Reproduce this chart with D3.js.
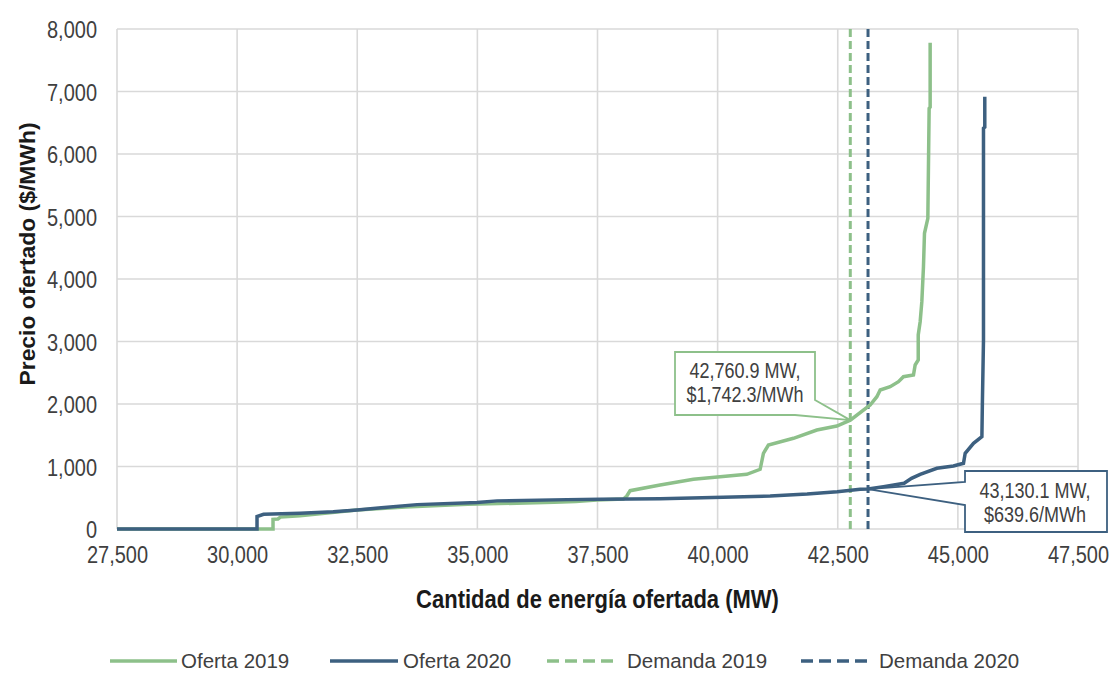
<!DOCTYPE html>
<html><head><meta charset="utf-8">
<script src="https://cdn.jsdelivr.net/npm/d3@7"></script>
<style>
body{margin:0;background:#fff}
svg{display:block}
text{font-family:"Liberation Sans",Arial,sans-serif}
</style>
</head><body>
<svg id="c" width="1109" height="673"></svg>
<script>
// ---------- data ----------
const xTicks = [27500, 30000, 32500, 35000, 37500, 40000, 42500, 45000, 47500];
const yTicks = [0, 1000, 2000, 3000, 4000, 5000, 6000, 7000, 8000];

const qty2019   = [27500, 30747, 30747, 30850, 30900, 31309, 32496, 33500, 34800, 36600, 37050, 37485, 38040, 38110, 38179, 38803, 39496, 40052, 40607, 40885, 40953, 41057, 41578, 42065, 42481, 42761, 43175, 43314, 43383, 43591, 43764, 43867, 44076, 44111, 44175, 44175, 44215, 44250, 44284, 44305, 44375, 44402, 44423, 44423];
const price2019 = [0, 0, 155, 160, 190, 213, 304, 350, 395, 427, 440, 464, 480, 528, 613, 704, 795, 837, 875, 955, 1211, 1344, 1451, 1584, 1648, 1742, 1984, 2117, 2224, 2277, 2357, 2437, 2464, 2624, 2704, 3104, 3317, 3637, 4197, 4731, 4971, 6731, 6750, 7780];

const qty2020   = [27500, 30414, 30414, 30550, 31309, 32000, 32496, 33000, 33745, 34994, 35410, 36867, 37554, 38803, 40115, 41093, 41863, 42488, 42966, 43130, 43451, 43881, 44035, 44215, 44563, 44908, 45117, 45152, 45325, 45500, 45510, 45533, 45533, 45560, 45560];
const price2020 = [0, 0, 200, 235, 251, 275, 304, 340, 390, 425, 450, 470, 475, 485, 507, 528, 560, 597, 635, 640, 677, 731, 811, 875, 971, 1008, 1051, 1211, 1371, 1477, 2011, 3024, 6411, 6430, 6917];

const demandQty   = [42760.9, 43130.1];
const demandPrice = [1742.3, 639.6];
const seriesNames = ["Oferta 2019", "Oferta 2020", "Demanda 2019", "Demanda 2020"];
const xTitle = "Cantidad de energía ofertada (MW)";
const yTitle = "Precio ofertado ($/MWh)";

// ---------- setup ----------
const GREEN = "#8DC08A", BLUE = "#3D6080";
const svg = d3.select("#c");
const L = 117, R = 1078, T = 29, B = 529;
const SY = 1.2; // vertical text stretch of the reference
const x = d3.scaleLinear().domain([27500, 47500]).range([L, R]);
const y = d3.scaleLinear().domain([0, 8000]).range([B, T]);
const fmt = d3.format(",");

function stext(g, tx, ty, str, opts = {}) {
  return g.append("text")
    .attr("transform", `translate(${tx},${ty}) scale(1,${SY})`)
    .attr("text-anchor", opts.anchor || "start")
    .attr("font-size", opts.size || 20)
    .attr("font-weight", opts.weight || "normal")
    .attr("fill", opts.fill || "#404040")
    .text(str);
}

// grid
const grid = svg.append("g");
grid.selectAll("line.v").data(xTicks).join("line")
  .attr("x1", d => x(d)).attr("x2", d => x(d)).attr("y1", T).attr("y2", B)
  .attr("stroke", "#d9d9d9").attr("stroke-width", 1.6);
grid.selectAll("line.h").data(yTicks).join("line")
  .attr("x1", L).attr("x2", R).attr("y1", d => y(d)).attr("y2", d => y(d))
  .attr("stroke", "#d9d9d9").attr("stroke-width", 1.6);

// axes (labels only)
const ax = svg.append("g").attr("transform", `translate(${L},0)`)
  .call(d3.axisLeft(y).tickValues(yTicks).tickFormat(fmt).tickSize(0));
ax.select(".domain").remove();
ax.selectAll("text").attr("x", 0).attr("dy", null).attr("y", 0)
  .attr("transform", `translate(-20,8.5) scale(1,${SY})`)
  .attr("font-size", 20).attr("fill", "#404040").attr("font-family", null);

const bx = svg.append("g").attr("transform", `translate(0,${B})`)
  .call(d3.axisBottom(x).tickValues(xTicks).tickFormat(fmt).tickSize(0));
bx.select(".domain").remove();
bx.selectAll("text").attr("y", 0).attr("dy", null)
  .attr("transform", `translate(0,34) scale(1,${SY})`)
  .attr("font-size", 20).attr("fill", "#404040").attr("font-family", null);

// titles
stext(svg, (L + R) / 2, 608, xTitle, {anchor: "middle", size: 22, weight: "bold", fill: "#1a1a1a"});
svg.append("text")
  .attr("transform", `translate(35,254) rotate(-90) scale(1.04,1)`)
  .attr("text-anchor", "middle").attr("font-size", 22).attr("font-weight", "bold")
  .attr("fill", "#1a1a1a").text(yTitle);

// demand lines
const demandColors = [GREEN, BLUE];
svg.selectAll("line.dem").data(demandQty).join("line")
  .attr("x1", d => x(d)).attr("x2", d => x(d)).attr("y1", y(0)).attr("y2", y(8000))
  .attr("stroke", (d, i) => demandColors[i]).attr("stroke-width", 3)
  .attr("stroke-dasharray", "8,4");

// supply curves
const line = d3.line().x(d => x(d[0])).y(d => y(d[1]));
const s2019 = qty2019.map((q, i) => [q, price2019[i]]);
const s2020 = qty2020.map((q, i) => [q, price2020[i]]);
svg.append("path").datum(s2019).attr("d", line).attr("fill", "none")
  .attr("stroke", GREEN).attr("stroke-width", 3.5).attr("stroke-linejoin", "miter");
svg.append("path").datum(s2020).attr("d", line).attr("fill", "none")
  .attr("stroke", BLUE).attr("stroke-width", 3.5).attr("stroke-linejoin", "miter");

// callouts
const f1 = d3.format(",.1f");
function callout(i, box, wedge, color, tx, ty1, ty2) {
  const tip = [x(demandQty[i]), y(demandPrice[i])];
  const g = svg.append("g");
  const p = d3.path();
  if (wedge.side === "right") {
    p.moveTo(box.l, box.t); p.lineTo(box.r, box.t); p.lineTo(box.r, wedge.a);
    p.lineTo(tip[0], tip[1]); p.lineTo(wedge.b, box.b); p.lineTo(box.l, box.b); p.closePath();
  } else {
    p.moveTo(box.l, box.t); p.lineTo(box.r, box.t); p.lineTo(box.r, box.b); p.lineTo(box.l, box.b);
    p.lineTo(box.l, wedge.b); p.lineTo(tip[0], tip[1]); p.lineTo(box.l, wedge.a); p.closePath();
  }
  g.append("path").attr("d", p.toString()).attr("fill", "#fff")
    .attr("stroke", color).attr("stroke-width", 1.8);
  stext(g, tx, ty1, f1(demandQty[i]) + " MW,", {anchor: "middle", size: 18});
  stext(g, tx, ty2, "$" + f1(demandPrice[i]) + "/MWh", {anchor: "middle", size: 18});
}
callout(0, {l: 675, t: 352, r: 815, b: 415}, {side: "right", a: 400, b: 795}, GREEN, 745, 378, 402);
callout(1, {l: 965, t: 471, r: 1107, b: 532}, {side: "left", a: 482, b: 505}, BLUE, 1035, 498, 522);

// legend
const lg = svg.append("g");
const legItems = [
  {x0: 110, x1: 177, tx: 181, c: GREEN, dash: null},
  {x0: 330, x1: 398, tx: 403, c: BLUE, dash: null},
  {x0: 547, x1: 618, tx: 627, c: GREEN, dash: "12,6"},
  {x0: 801, x1: 872, tx: 879, c: BLUE, dash: "12,6"}
];
legItems.forEach((it, i) => {
  lg.append("line").attr("x1", it.x0).attr("x2", it.x1).attr("y1", 661).attr("y2", 661)
    .attr("stroke", it.c).attr("stroke-width", 3.5).attr("stroke-dasharray", it.dash);
  lg.append("text").attr("x", it.tx).attr("y", 668).attr("font-size", 20.5)
    .attr("fill", "#404040").text(seriesNames[i]);
});
</script>
</body></html>
